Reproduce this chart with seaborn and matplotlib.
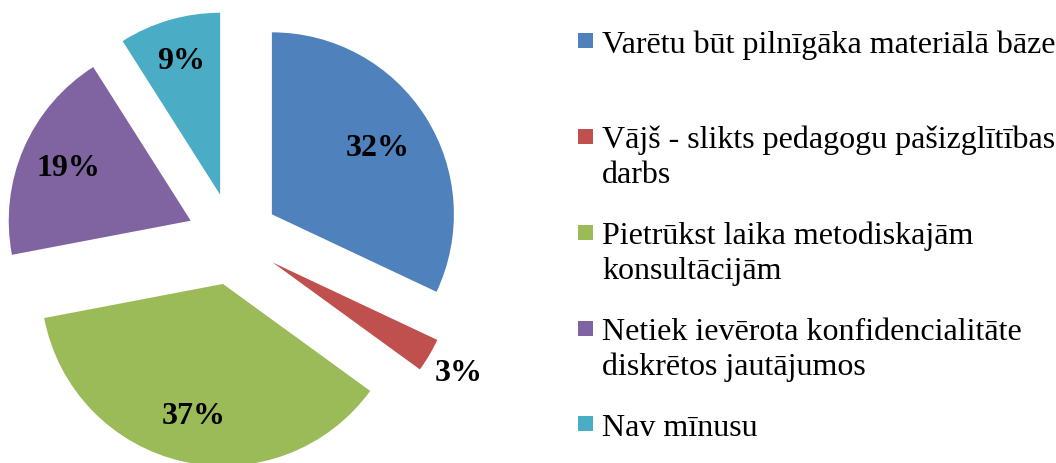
import numpy as np
import matplotlib
matplotlib.use("Agg")
import matplotlib.pyplot as plt
from matplotlib.patches import Rectangle, Wedge
from matplotlib.legend_handler import HandlerPatch
import seaborn as sns

# ---- data ----
categories = [
    "Varētu būt pilnīgāka materiālā bāze",
    "Vājš - slikts pedagogu pašizglītības\ndarbs",
    "Pietrūkst laika metodiskajām\nkonsultācijām",
    "Netiek ievērota konfidencialitāte\ndiskrētos jautājumos",
    "Nav mīnusu",
]
values = [32, 3, 37, 19, 9]
colors = ["#4F81BD", "#C0504D", "#9BBB59", "#8064A2", "#4BACC6"]

# ---- style ----
sns.set_theme(style="white")
plt.rcParams["font.family"] = ["Liberation Serif", "DejaVu Serif"]
plt.rcParams["text.color"] = "black"

W, H, DPI = 1056, 464, 100
fig = plt.figure(figsize=(W / DPI, H / DPI), dpi=DPI)
fig.patch.set_facecolor("white")

R_PX = 182.0           # pie radius in pixels
CX, CY = 233.0, 240.0  # pie centre in pixels (from top-left)

ax = fig.add_axes([0, 0, 1, 1])
wedges, texts, autotexts = ax.pie(
    values,
    colors=colors,
    startangle=90,
    counterclock=False,
    explode=[0.253] * len(values),
    autopct="%.0f%%",
    pctdistance=0.73,
    textprops=dict(fontsize=23, fontweight="bold", color="black"),
    wedgeprops=dict(linewidth=0),
)
ax.set_xlim(-CX / R_PX, (W - CX) / R_PX)
ax.set_ylim(-(H - CY) / R_PX, CY / R_PX)
ax.set_aspect("auto")
ax.axis("off")

# label distances (fraction of radius from the exploded wedge apex)
label_dist = [0.69, 1.19, 0.74, 0.73, 0.77]
for w, t, d in zip(wedges, autotexts, label_dist):
    ang = np.deg2rad((w.theta1 + w.theta2) / 2)
    cx, cy = w.center
    t.set_position((cx + d * np.cos(ang), cy + d * np.sin(ang)))
    t.set_ha("center")
    t.set_va("center")


class FirstLineSquare(HandlerPatch):
    def __init__(self, shift=0.62, **kw):
        super().__init__(**kw)
        self.shift = shift

    def create_artists(self, legend, orig_handle, xdescent, ydescent,
                       width, height, fontsize, trans):
        s = width
        y = -ydescent + (height - s) / 2 + self.shift * fontsize
        p = Rectangle((-xdescent, y), s, s,
                      facecolor=orig_handle.get_facecolor(), edgecolor="none",
                      transform=trans)
        return [p]


# first entry reserves a second (empty) line, like the reference layout
labels = list(categories)
labels[0] = labels[0] + "\n "
leg = fig.legend(
    wedges, labels,
    loc="upper left",
    bbox_to_anchor=(578 / W, 1 - 30 / H),
    frameon=False,
    fontsize=23,
    handlelength=0.47,
    handleheight=0.47,
    handletextpad=0.28,
    labelspacing=1.0,
    borderpad=0,
    borderaxespad=0,
    handler_map={wedges[-1]: FirstLineSquare(shift=0.0),
                 Wedge: FirstLineSquare()},
)
for t in leg.get_texts():
    t.set_color("black")
    t.set_linespacing(1.25)

fig.savefig("out.png", dpi=DPI, facecolor="white")
